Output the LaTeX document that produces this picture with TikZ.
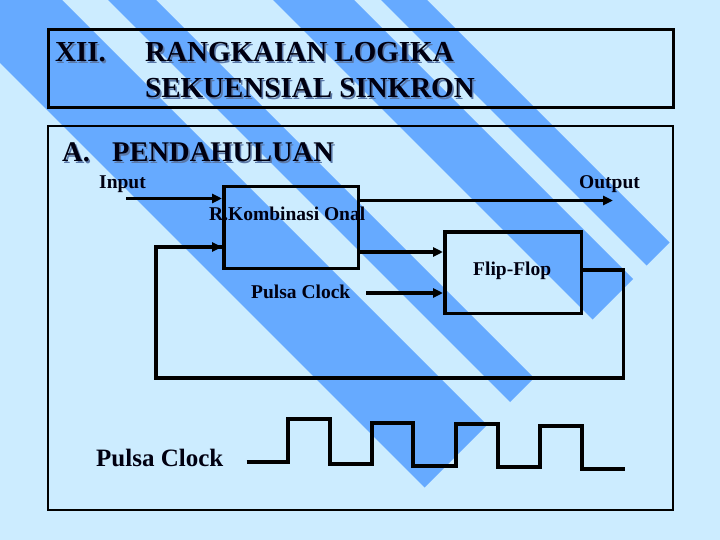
\documentclass[tikz,border=0pt]{standalone}
\usepackage{fontspec}
\setmainfont{Liberation Serif}
\usetikzlibrary{arrows.meta}
\definecolor{bgl}{HTML}{CCECFF}
\definecolor{stripe}{HTML}{66AAFF}
\definecolor{ink}{HTML}{000011}
\definecolor{shade}{HTML}{5A78A8}
\newcommand\shtext[1]{\makebox[0pt][l]{\hspace{1.6pt}\raisebox{-1.6pt}{\textcolor{shade}{#1}}}#1}
\begin{document}
\begin{tikzpicture}[x=1pt,y=-1pt,
  heading/.style={anchor=base west,inner sep=0pt,text=ink,font=\fontsize{29}{34}\selectfont\bfseries},
  sublabel/.style={anchor=base west,inner sep=0pt,text=ink,font=\fontsize{19.5}{22}\selectfont\bfseries},
  blockbox/.style={draw=black,line width=3.5pt,inner sep=0pt},
  wire/.style={draw=black,line width=3.5pt,line cap=butt},
  arrowwire/.style={wire,-{Triangle[length=10pt,width=9pt]}},
  ]
\useasboundingbox (0,0) rectangle (720,540);
% background
\fill[bgl] (0,0) rectangle (720,540);
\begin{scope}
  \clip (0,0) -- (720,0) -- (720,192) -- (372,540) -- (0,540) -- cycle;
  \foreach \a/\b in {-63/62, 108/156, 273/354, 381/427}{
    \fill[stripe] (\a,0) -- (\b,0) -- (\b+600,600) -- (\a+600,600) -- cycle;
  }
\end{scope}
% frames
\draw[line width=3pt] (48,30) rectangle (673,108);
\draw[line width=2pt] (48,126) rectangle (673,510);
% headings
\node[heading] (xii) at (55,62) {\shtext{XII.}};
\node[heading] (t1) at (145,62) {\shtext{RANGKAIAN LOGIKA}};
\node[heading] (t2) at (145,98) {\shtext{SEKUENSIAL SINKRON}};
\node[heading,font=\fontsize{28.5}{34}\selectfont\bfseries] (a) at (62,162) {\shtext{A.}};
\node[heading,font=\fontsize{28.5}{34}\selectfont\bfseries] (pend) at (112,162) {\shtext{PENDAHULUAN}};
% blocks
\node[blockbox,minimum width=134.5pt,minimum height=81.5pt] (komb) at (291,227.5) {};
\node[blockbox,minimum width=136.5pt,minimum height=81.5pt] (ff) at (513,272.5) {};
% connector endpoints
\coordinate (inS) at (126,198.5);
\coordinate (outE) at (613,200.5);
\coordinate (kf) at (400,252);
\coordinate (clkS) at (366,293);
\coordinate (fbR) at (623.5,270);
\coordinate (fbBR) at (623.5,378);
\coordinate (fbBL) at (156,378);
\coordinate (fbL) at (156,247);
% connectors
\draw[arrowwire] (inS) -- (inS -| komb.west);
\draw[arrowwire] (outE -| komb.east) -- (outE);
\draw[arrowwire] (kf -| komb.east) -- (kf -| ff.west);
\draw[arrowwire] (clkS) -- (clkS -| ff.west);
\draw[wire,line join=miter] (fbR -| ff.east) -- (fbR) -- (fbBR) -- (fbBL) -- (fbL) -- (fbL -| komb.west);
\draw[arrowwire] (fbL) -- (fbL -| komb.west);
% labels
\node[sublabel] (lin) at (99,189) {Input};
\node[sublabel] (lout) at (579,189) {Output};
\node[sublabel] (lkomb) at (209,221) {R.Kombinasi Onal};
\node[sublabel] (lff) at (473,275) {Flip-Flop};
\node[sublabel] (lclk) at (251,298) {Pulsa Clock};
\node[sublabel,font=\fontsize{25}{30}\selectfont\bfseries] (lclk2) at (96,466) {Pulsa Clock};
% clock waveform
\draw[line width=3.5pt,line join=miter]
  (246.5,462) -- (288,462) -- (288,419) -- (330,419) -- (330,464)
  -- (372,464) -- (372,423) -- (413,423) -- (413,466)
  -- (456,466) -- (456,424) -- (498,424) -- (498,467)
  -- (540,467) -- (540,426) -- (582,426) -- (582,469) -- (625,469);
\end{tikzpicture}
\end{document}
